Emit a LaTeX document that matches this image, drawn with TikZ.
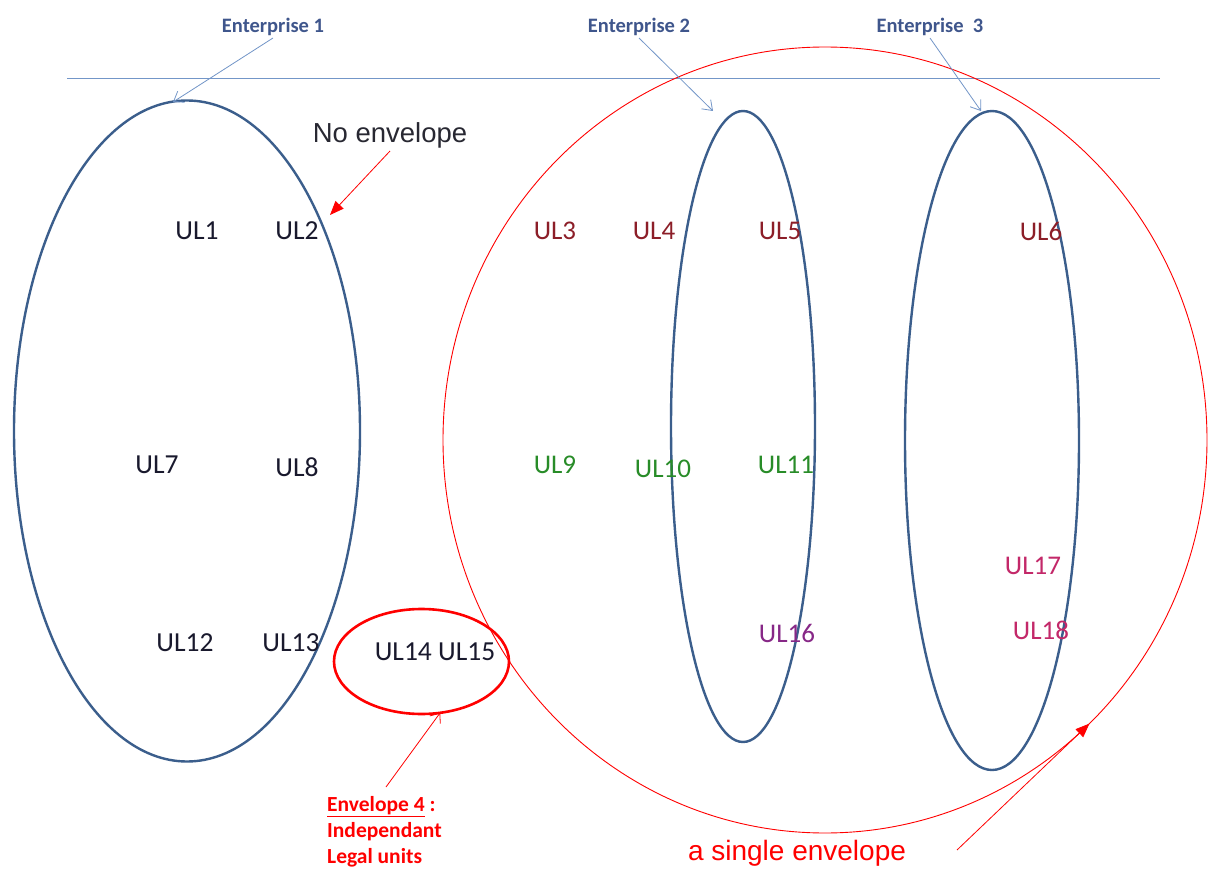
\documentclass[tikz,border=0pt]{standalone}
\usepackage{fontspec}
\setmainfont{Carlito}
\newfontfamily\arialf{Liberation Sans}
\usetikzlibrary{shapes.geometric,arrows.meta}
\definecolor{entblue}{RGB}{59,94,140}
\definecolor{lineblue}{RGB}{115,150,200}
\definecolor{enttext}{RGB}{63,86,140}
\definecolor{ulred}{RGB}{140,30,40}
\definecolor{ulgreen}{RGB}{40,140,40}
\definecolor{ulpurple}{RGB}{135,40,135}
\definecolor{ulpink}{RGB}{195,40,105}
\definecolor{ulblack}{RGB}{25,25,45}
\definecolor{envred}{RGB}{255,0,0}
\definecolor{noenv}{RGB}{40,40,50}
\begin{document}
\begin{tikzpicture}[x=1pt,y=-1pt,
  entell/.style={draw=entblue, line width=2.4pt, ellipse, inner sep=0pt, outer sep=0pt},
  ullab/.style={inner sep=0pt, font=\fontsize{27}{30}\selectfont},
  ulbig/.style={inner sep=0pt, font=\fontsize{27.5}{30}\selectfont, text=ulblack},
  entlab/.style={inner sep=2pt, text=enttext, font=\fontsize{20.5}{24}\selectfont\bfseries},
  entarrow/.style={draw=lineblue, line width=0.8pt, -{Straight Barb[length=9pt,width=13pt]}},
  redfill/.style={draw=envred, line width=0.8pt, -{Triangle[length=14pt,width=11pt]}},
  redbarb/.style={draw=envred, line width=0.8pt, -{Straight Barb[length=8pt,width=13pt]}}]
\useasboundingbox[fill=white] (0,0) rectangle (1208,869);

% horizontal line
\coordinate (hl) at (67,79);
\coordinate (hr) at (1160,79);
\draw[lineblue, line width=1pt] (hl) -- (hr);

% big red envelope
\node[draw=envred, line width=0.9pt, ellipse, inner sep=0pt, outer sep=0pt,
      minimum width=764pt, minimum height=786pt] (bigc) at (825,440) {};

% enterprise ellipses
\node[entell, minimum width=346pt, minimum height=661pt] (e1) at (187,431) {};
\node[entell, minimum width=144pt, minimum height=631pt] (e2) at (743,426.5) {};
\node[entell, minimum width=174pt, minimum height=659pt] (e3) at (992,440.5) {};

% envelope 4
\node[draw=envred, line width=2.6pt, ellipse, inner sep=0pt, outer sep=0pt,
      minimum width=175pt, minimum height=105pt] (e4) at (421.5,661.5) {};

% enterprise labels
\node[entlab] (ent1) at (273,27) {Enterprise 1};
\node[entlab] (ent2) at (639,27) {Enterprise 2};
\node[entlab] (ent3) at (930,27) {Enterprise\ \ 3};
\coordinate (t1) at (173,102);
\coordinate (t2) at (713,111);
\coordinate (t3) at (981,111);
\draw[entarrow] (ent1.south) -- (t1);
\draw[entarrow] (ent2.south) -- (t2);
\draw[entarrow] (ent3.south) -- (t3);

% No envelope
\node[inner sep=3pt, text=noenv, font=\arialf\fontsize{27.5}{30}\selectfont] (noenv) at (390,135) {No envelope};
\coordinate (tne) at (330,215);
\draw[redfill] (noenv.south) -- (tne);

% UL labels (black)
\node[ulbig] (ul1) at (197,231) {UL1};
\node[ulbig] (ul2) at (297,231) {UL2};
\node[ulbig] (ul7) at (157,465) {UL7};
\node[ulbig] (ul8) at (297,467) {UL8};
\node[ulbig] (ul12) at (185,643) {UL12};
\node[ulbig] (ul13) at (291,643) {UL13};
\node[ulbig] (ul1415) at (435,652) {UL14 UL15};

% UL labels (red)
\node[ullab, text=ulred] (ul3) at (555,231) {UL3};
\node[ullab, text=ulred] (ul4) at (654,231) {UL4};
\node[ullab, text=ulred] (ul5) at (780,231) {UL5};
\node[ullab, text=ulred] (ul6) at (1041,231) {UL6};
% UL labels (green)
\node[ullab, text=ulgreen] (ul9) at (555,465) {UL9};
\node[ullab, text=ulgreen] (ul10) at (663,469) {UL10};
\node[ullab, text=ulgreen] (ul11) at (786,465) {UL11};
% UL labels (purple / pink)
\node[ullab, text=ulpurple] (ul16) at (787,633) {UL16};
\node[ullab, text=ulpink] (ul17) at (1033,566) {UL17};
\node[ullab, text=ulpink] (ul18) at (1041,630) {UL18};

% Envelope 4 label
\node[anchor=north west, inner sep=0pt, align=left, text=envred,
      font=\fontsize{21.5}{26}\selectfont\bfseries] (env4) at (327,796)
      {\underline{Envelope 4} :\\Independant\\Legal units};
\coordinate (s4) at (386,787);
\draw[redbarb] (s4) -- (e4.-70);

% a single envelope
\node[inner sep=0pt, text=envred, font=\arialf\fontsize{28}{32}\selectfont] (single) at (797,853) {a single envelope};
\coordinate (ss) at (957,850);
\draw[redfill] (ss) -- (bigc.-47);
\end{tikzpicture}
\end{document}
